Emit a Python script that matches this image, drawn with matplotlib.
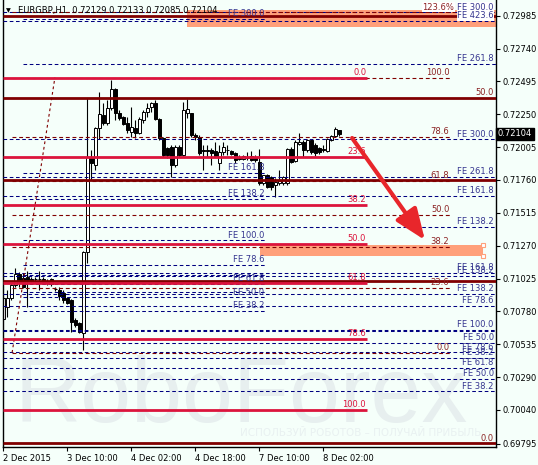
import numpy as np
import matplotlib
matplotlib.use('Agg')
import matplotlib.pyplot as plt
from matplotlib.patches import Rectangle

plt.rcParams['font.family'] = ['DejaVu Sans']

# EURGBP H1 bars, 2 Dec 18:00 .. 8 Dec 06:00 (x = bar number)
opens = [0.70723, 0.70813, 0.70880, 0.70977, 0.71059, 0.71029, 0.71036, 0.71020, 0.71025, 0.71022,
         0.71025, 0.71010, 0.71018, 0.70950, 0.70940, 0.70918, 0.70880, 0.70865, 0.70716, 0.70693,
         0.70619, 0.71223, 0.71931, 0.71872, 0.72148, 0.72245, 0.72185, 0.72297, 0.72438, 0.72259,
         0.72230, 0.72185, 0.72120, 0.72148, 0.72110, 0.72207, 0.72267, 0.72304, 0.72334, 0.72215,
         0.72073, 0.71998, 0.72006, 0.71872, 0.72006, 0.71946, 0.72259, 0.72259, 0.72095, 0.72080,
         0.71984, 0.71980, 0.71984, 0.71976, 0.71887, 0.71969, 0.71984, 0.71976, 0.71961, 0.71931,
         0.71916, 0.71931, 0.71939, 0.71931, 0.71894, 0.71737, 0.71797, 0.71782, 0.71723, 0.71737,
         0.71737, 0.71737, 0.71991, 0.71902, 0.72028, 0.72043, 0.71984, 0.72058, 0.72021, 0.71998,
         0.71991, 0.71976, 0.72058, 0.72088, 0.72129]
highs = [0.70890, 0.70940, 0.71000, 0.71104, 0.71074, 0.71066, 0.71081, 0.71036, 0.71040, 0.71081,
         0.71036, 0.71020, 0.71029, 0.70962, 0.70962, 0.70940, 0.70890, 0.70872, 0.70731, 0.70701,
         0.71230, 0.72371, 0.71984, 0.72155, 0.72418, 0.72334, 0.72356, 0.72506, 0.72446, 0.72282,
         0.72237, 0.72230, 0.72306, 0.72207, 0.72230, 0.72282, 0.72334, 0.72341, 0.72356, 0.72222,
         0.72080, 0.72006, 0.72021, 0.72021, 0.72021, 0.72341, 0.72364, 0.72259, 0.72110, 0.72095,
         0.72021, 0.72021, 0.71998, 0.72043, 0.72021, 0.72043, 0.72021, 0.71984, 0.71969, 0.71946,
         0.71946, 0.71969, 0.71976, 0.71946, 0.71991, 0.71800, 0.71805, 0.71790, 0.71775, 0.71834,
         0.71790, 0.71995, 0.72006, 0.72058, 0.72110, 0.72058, 0.72066, 0.72066, 0.72036, 0.72006,
         0.72021, 0.72073, 0.72095, 0.72155, 0.72133]
lows = [0.70716, 0.70738, 0.70865, 0.70962, 0.70962, 0.70955, 0.70813, 0.70985, 0.70992, 0.70940,
        0.70985, 0.70977, 0.70970, 0.70935, 0.70865, 0.70843, 0.70835, 0.70626, 0.70664, 0.70619,
        0.70492, 0.71143, 0.71760, 0.71834, 0.72066, 0.72170, 0.72170, 0.72282, 0.72207, 0.72207,
        0.72170, 0.72110, 0.72083, 0.72073, 0.72103, 0.72185, 0.72230, 0.72267, 0.72207, 0.72058,
        0.71931, 0.71924, 0.71782, 0.71857, 0.71931, 0.71939, 0.72222, 0.72080, 0.72058, 0.71946,
        0.71834, 0.71931, 0.71872, 0.71931, 0.71834, 0.71946, 0.71946, 0.71946, 0.71887, 0.71909,
        0.71909, 0.71909, 0.71905, 0.71894, 0.71723, 0.71723, 0.71700, 0.71685, 0.71633, 0.71723,
        0.71723, 0.71723, 0.71887, 0.71894, 0.72021, 0.71931, 0.71969, 0.71954, 0.71939, 0.71954,
        0.71969, 0.71969, 0.72050, 0.72080, 0.72085]
closes = [0.70882, 0.70880, 0.70977, 0.71059, 0.70992, 0.70962, 0.71014, 0.71010, 0.71022, 0.71018,
          0.71000, 0.70992, 0.70985, 0.70945, 0.70895, 0.70865, 0.70843, 0.70701, 0.70679, 0.70626,
          0.71223, 0.71931, 0.71887, 0.72148, 0.72252, 0.72185, 0.72297, 0.72438, 0.72259, 0.72222,
          0.72177, 0.72133, 0.72157, 0.72110, 0.72215, 0.72267, 0.72297, 0.72334, 0.72215, 0.72073,
          0.71946, 0.71946, 0.71872, 0.72006, 0.71946, 0.72282, 0.72289, 0.72095, 0.72080, 0.71961,
          0.71976, 0.71976, 0.71961, 0.71939, 0.71969, 0.72006, 0.71980, 0.71954, 0.71909, 0.71916,
          0.71939, 0.71924, 0.71909, 0.71909, 0.71737, 0.71797, 0.71708, 0.71708, 0.71745, 0.71760,
          0.71782, 0.71991, 0.71894, 0.72043, 0.72043, 0.71984, 0.72058, 0.71969, 0.71961, 0.71969,
          0.71984, 0.72066, 0.72088, 0.72140, 0.72104]

last_price = 0.72104
title_text = 'EURGBP,H1  0.72129 0.72133 0.72085 0.72104'

date_ticks = [0, 16, 32, 48, 64, 80]
date_labels = ['2 Dec 2015', '3 Dec 10:00', '4 Dec 02:00', '4 Dec 18:00', '7 Dec 10:00', '8 Dec 02:00']

price_ticks = [0.72985, 0.72740, 0.72495, 0.72250, 0.72005, 0.71760, 0.71515,
               0.71270, 0.71025, 0.70780, 0.70535, 0.70290, 0.70045, 0.69795]
price_labels = ['0.72985', '0.72740', '0.72495', '0.72250', '0.72005', '0.71760', '0.71515',
                '0.71270', '0.71025', '0.70780', '0.70535', '0.70290', '0.70040', '0.69795']

# retracement 1 (crimson, solid)
fib_a_labels = ['0.0', '23.6', '38.2', '50.0', '61.8', '78.6', '100.0']
fib_a_prices = [0.72518, 0.71934, 0.71573, 0.71283, 0.70992, 0.70574, 0.70045]
fib_a_end = 90.9

# retracement 2 (maroon, solid, whole width) - only two captions readable
fib_b_labels = ['', '50.0', '', '', '0.0']
fib_b_prices = [0.72985, 0.72369, 0.71760, 0.71007, 0.69796]

# retracement 3 (maroon, dashed)
fib_c_labels = ['123.6%', '100.0', '78.6', '61.8', '50.0', '38.2', '23.6', '0.0']
fib_c_prices = [0.73009, 0.72524, 0.72084, 0.71752, 0.71499, 0.71260, 0.70955, 0.70472]
fib_c_start, fib_c_end = 2.2, 111.7
fib_c_trend_x = [2.2, 12.9]
fib_c_trend_y = [0.70472, 0.72524]

# expansions, captions on the right edge
fe_right_labels = ['FE 300.0', 'FE 423.6', 'FE 261.8', 'FE 300.0', 'FE 261.8', 'FE 161.8', 'FE 138.2',
                   'FE 161.8', 'FE 138.2', 'FE 138.2', 'FE 78.6', 'FE 100.0', '', 'FE 50.0',
                   'FE 78.6', 'FE 38.2', 'FE 61.8', 'FE 50.0', 'FE 38.2']
fe_right_prices = [0.73010, 0.72946, 0.72625, 0.72063, 0.71784, 0.71641, 0.71407,
                   0.71069, 0.71044, 0.70910, 0.70820, 0.70645, 0.70636, 0.70544,
                   0.70474, 0.70433, 0.70358, 0.70274, 0.70184]
fe_right_start = [-0.1, -0.1, 4.9, -0.1, -0.1, -0.1, -0.1,
                  -0.1, -0.1, -0.1, -0.1, -0.1, -0.1, -0.1,
                  -0.1, -0.1, -0.1, -0.1, -0.1]

# expansions, captions in the middle
fe_mid_labels = ['FE 300.0', 'FE 161.8', 'FE 138.2', 'FE 100.0', 'FE 78.6', '', 'FE 61.8',
                 '', 'FE 50.0', 'FE 38.2']
fe_mid_prices = [0.72960, 0.71814, 0.71616, 0.71309, 0.71126, 0.71051, 0.70988,
                 0.70927, 0.70884, 0.70783]
fe_mid_start, fe_mid_end = 4.9, 65.4

# target boxes: (x0, x1, low, high)
zone_top = (45.9, 123.2, 0.72901, 0.73028)
zone_mid = (64.2, 119.9, 0.71193, 0.71275)

arrow_from = (87.2, 0.72073)
arrow_to = (105.4, 0.71312)

BG = '#F5FFFA'
CRIMSON = '#DC143C'
MAROON = '#800000'
MAROON_TXT = '#8B2323'
NAVY = '#000080'
NAVY_TXT = '#35358F'
SALMON = '#FFA07A'
DASH = (0, (3.5, 2.5))
FS = 6

fig = plt.figure(figsize=(5.38, 4.65), dpi=100, facecolor=BG)
ax = fig.add_axes([3 / 538, 18 / 465, 492.7 / 538, 447 / 465])
ax.set_facecolor(BG)
ax.set_xlim(-0.075, 123.1)
ax.set_ylim(0.69769, 0.73102)

# watermark
ax.text(0.024, 0.056, 'RoboForex', transform=ax.transAxes, fontsize=66,
        family='Liberation Sans', color='#E7EFEF', ha='left', va='baseline', zorder=0.5)
ax.text(0.725, 0.031, 'ИСПОЛЬЗУЙ РОБОТОВ – ПОЛУЧАЙ ПРИБЫЛЬ', transform=ax.transAxes,
        fontsize=7.5, color='#E9F1F1', ha='center', va='center', zorder=0.5)

# target boxes
for x0, x1, lo, hi in (zone_top, zone_mid):
    ax.add_patch(Rectangle((x0, lo), x1 - x0, hi - lo, facecolor=SALMON, edgecolor='none', zorder=1))
ax.plot([zone_mid[1], zone_mid[1]], [zone_mid[2], zone_mid[3]], 's', ms=2.5,
        mfc='white', mec=SALMON, mew=0.8, zorder=6)

# candles
idx = np.arange(len(opens))
o, h, l, c = (np.array(v) for v in (opens, highs, lows, closes))
up = c >= o
bottom = np.minimum(o, c)
height = np.maximum(np.abs(c - o), 0.000025)
ax.vlines(idx, l, h, color='black', lw=0.8, zorder=2)
ax.bar(idx[up], height[up], bottom=bottom[up], width=0.7, color='white',
       edgecolor='black', lw=0.7, zorder=2.5)
ax.bar(idx[~up], height[~up], bottom=bottom[~up], width=0.7, color='black',
       edgecolor='black', lw=0.7, zorder=2.5)

def caption(txt, x, y, color, box=False):
    if not txt:
        return
    kw = dict(bbox=dict(facecolor='white', edgecolor='none', pad=0.3)) if box else {}
    ax.annotate(txt, xy=(x, y), xytext=(-0.5, 0.6), textcoords='offset points',
                ha='right', va='bottom', fontsize=FS, color=color, zorder=5, **kw)

# expansions
for lbl, p, s in zip(fe_right_labels, fe_right_prices, fe_right_start):
    ax.hlines(p, s, 123.1, colors=NAVY, lw=0.75, linestyles=DASH, zorder=3)
    caption(lbl, 122.8, p, NAVY_TXT, box=p > 0.729)
for lbl, p in zip(fe_mid_labels, fe_mid_prices):
    ax.hlines(p, fe_mid_start, fe_mid_end, colors=NAVY, lw=0.75, linestyles=DASH, zorder=3)
    caption(lbl, fe_mid_end, p, NAVY_TXT)

# retracement 3
for lbl, p in zip(fib_c_labels, fib_c_prices):
    end = fib_c_end + (1.2 if lbl.endswith('%') else 0)
    ax.hlines(p, fib_c_start, end, colors=MAROON, lw=0.8, linestyles=DASH, zorder=3.2)
    caption(lbl, end, p, MAROON_TXT, box=lbl.endswith('%'))
ax.plot(fib_c_trend_x, fib_c_trend_y, color=MAROON, lw=0.8, linestyle=(0, (2.5, 2.5)), zorder=3.2)

# retracement 2
for lbl, p in zip(fib_b_labels, fib_b_prices):
    ax.hlines(p, -0.1, 123.1, colors=MAROON, lw=2, zorder=3.4)
    caption(lbl, 122.8, p, MAROON_TXT)

# retracement 1
for lbl, p in zip(fib_a_labels, fib_a_prices):
    ax.hlines(p, -0.1, fib_a_end, colors=CRIMSON, lw=2, zorder=3.5)
    caption(lbl, fib_a_end, p, CRIMSON)

ax.annotate('', xy=arrow_to, xytext=arrow_from,
            arrowprops=dict(arrowstyle='-|>,head_width=0.38,head_length=0.95', color='#E8262B',
                            lw=3, mutation_scale=20, shrinkA=0, shrinkB=0), zorder=7)

# axes
for side in ('top',):
    ax.spines[side].set_visible(False)
for side in ('left', 'right', 'bottom'):
    ax.spines[side].set_linewidth(1)
    ax.spines[side].set_color('black')
ax.yaxis.tick_right()
ax.set_yticks(price_ticks)
ax.set_yticklabels(price_labels)
ax.set_xticks(date_ticks)
ax.set_xticklabels(date_labels, ha='left')
ax.tick_params(axis='both', direction='out', length=3, width=0.8, labelsize=FS, pad=2)

ax.text(1.004, last_price, '%.5f' % last_price, transform=ax.get_yaxis_transform(),
        ha='left', va='center', fontsize=FS, color='white', zorder=8,
        bbox=dict(facecolor='black', edgecolor='black', pad=1.3))

fig.text(6 / 538, 1 - 11 / 465, '▼', fontsize=4.5, va='center', ha='left')
fig.text(18 / 538, 1 - 11 / 465, title_text, fontsize=FS, va='center', ha='left')

fig.savefig('out.png', dpi=100, facecolor=BG)
